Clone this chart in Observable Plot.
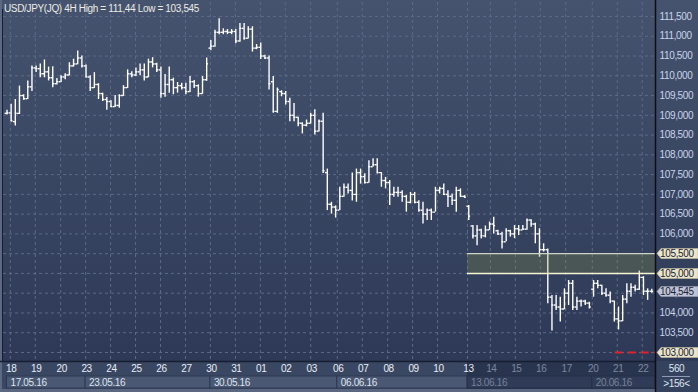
<!DOCTYPE html>
<html><head><meta charset="utf-8">
<script src="https://cdn.jsdelivr.net/npm/d3@7"></script>
<script src="https://cdn.jsdelivr.net/npm/@observablehq/plot@0.6"></script>
<style>
html,body{margin:0;padding:0;background:#36435f;}
#chart{width:698px;height:392px;background:linear-gradient(to bottom,#45536e 0%,#2d3956 92%);}
svg{display:block;}
svg text{letter-spacing:-0.35px;}
</style></head><body><div id="chart"></div>
<script>
const title = "USD/JPY(JQ) 4H High = 111,44 Low = 103,545";
const open = [109.05,109.06,108.84,109.05,109.5,109.42,109.72,110.2,110.18,110.05,110.1,109.95,109.8,109.85,109.97,110.02,110.25,110.3,110.45,110.25,
109.97,109.7,109.78,109.55,109.4,109.35,109.22,109.25,109.5,109.7,110.05,110.02,110.1,110.15,109.97,110.35,110.3,110.15,109.55,109.78,
109.9,109.7,109.75,109.7,109.6,109.85,109.75,109.55,109.9,110.7,110.75,111.1,111.1,111.12,111.1,111.12,110.88,111.2,110.95,111.18,
110.7,110.72,110.5,110.45,109.85,109.1,109.6,109.55,109.35,109.0,108.95,108.8,108.75,108.8,109.0,108.6,108.85,107.55,106.75,106.68,
106.6,106.95,107.18,107.1,107.0,107.55,107.45,107.3,107.7,107.75,107.55,107.35,107.3,107.0,107.05,107.05,106.95,106.8,107.0,106.8,
106.6,106.5,106.6,106.55,107.1,107.15,107.0,106.95,106.85,107.1,106.95,106.7,106.2,105.95,106.1,105.95,106.1,106.25,106.08,106.0,
105.8,106.08,106.0,106.13,106.1,106.12,106.35,106.25,106.0,105.6,105.6,104.4,104.2,104.15,104.1,104.5,104.75,104.15,104.3,104.3,
104.25,104.6,104.75,104.7,104.5,104.45,104.3,103.85,103.8,104.35,104.55,104.65,104.6,104.9,104.55,104.55];
const high = [109.13,109.28,109.4,109.74,109.52,109.87,110.25,110.25,110.3,110.4,110.22,110.23,109.93,110.0,110.05,110.33,110.42,110.63,110.5,110.27,
110.0,110.08,109.8,109.56,109.45,109.37,109.5,109.52,109.75,110.15,110.1,110.2,110.3,110.3,110.42,110.46,110.32,110.22,110.03,110.22,
109.94,109.83,109.81,109.81,109.98,109.88,109.77,109.98,110.45,110.89,111.15,111.44,111.19,111.17,111.17,111.17,111.32,111.32,111.24,111.24,
110.79,110.83,110.52,110.5,109.98,109.69,109.62,109.6,109.43,109.3,108.95,108.81,108.88,109.05,109.14,108.88,109.05,107.64,106.8,106.71,
107.18,107.26,107.26,107.54,107.64,107.64,107.52,107.85,107.9,107.9,107.55,107.43,107.35,107.18,107.18,107.09,106.97,107.05,107.05,106.84,
106.8,106.63,106.63,107.18,107.18,107.26,107.09,107.01,107.18,107.14,106.97,106.72,106.21,106.21,106.12,106.2,106.3,106.42,106.09,106.04,
106.13,106.09,106.21,106.21,106.21,106.38,106.36,106.27,106.13,105.75,105.62,104.44,104.44,104.4,104.61,104.82,104.82,104.4,104.33,104.32,
104.27,104.82,104.82,104.7,104.61,104.53,104.3,104.15,104.44,104.74,104.74,104.7,105.06,104.92,104.61,104.6];
const low = [109.01,108.84,108.73,109.02,109.38,109.4,109.6,110.08,109.95,109.95,109.87,109.7,109.77,109.83,109.9,110.0,110.22,110.28,110.2,109.95,
109.6,109.68,109.4,109.35,109.13,109.2,109.2,109.18,109.48,109.68,109.95,109.98,110.0,109.87,109.95,110.2,110.08,109.43,109.46,109.56,
109.52,109.56,109.64,109.52,109.58,109.68,109.46,109.53,109.86,110.64,110.72,111.04,111.04,111.04,111.04,110.81,110.85,110.9,110.93,110.6,
110.66,110.41,110.41,109.64,109.05,109.05,109.47,109.26,108.84,108.84,108.71,108.53,108.71,108.78,108.5,108.58,107.53,106.59,106.5,106.4,
106.59,106.93,107.01,106.83,106.8,107.26,107.26,107.28,107.69,107.52,107.18,107.14,106.72,106.93,106.93,106.8,106.55,106.76,106.76,106.55,
106.25,106.34,106.34,106.55,107.01,106.97,106.67,106.72,106.55,106.93,106.9,106.34,105.87,105.7,105.87,105.9,106.09,106.0,105.96,105.62,
105.8,105.92,105.88,105.96,106.09,106.09,106.17,105.75,105.41,105.54,104.23,103.545,104.06,103.77,104.08,104.19,104.06,104.06,104.15,104.19,
104.1,104.4,104.61,104.44,104.4,104.23,103.77,103.57,103.78,104.23,104.4,104.53,104.57,104.44,104.32,104.5];
const close = [109.06,108.86,109.05,109.5,109.42,109.72,110.2,110.18,110.05,110.1,109.95,109.8,109.85,109.97,110.02,110.25,110.3,110.45,110.25,109.97,
109.7,109.78,109.55,109.4,109.35,109.22,109.25,109.5,109.7,110.05,110.02,110.1,110.15,109.97,110.35,110.3,110.15,109.55,109.78,109.9,
109.7,109.75,109.7,109.6,109.85,109.75,109.55,109.9,110.3,110.75,111.1,111.1,111.12,111.1,111.12,110.88,111.2,110.95,111.18,110.7,
110.72,110.5,110.45,109.8,109.1,109.65,109.55,109.35,109.0,108.95,108.8,108.75,108.8,109.0,108.6,108.85,107.6,106.75,106.68,106.6,
106.95,107.18,107.1,107.0,107.55,107.45,107.3,107.7,107.75,107.55,107.35,107.3,107.0,107.05,107.05,106.95,106.8,107.0,106.8,106.6,
106.5,106.6,106.55,107.1,107.15,107.0,106.95,106.85,107.1,106.95,106.93,106.45,105.95,106.1,105.95,106.1,106.25,106.21,106.0,105.8,
106.08,106.0,106.13,106.1,106.12,106.35,106.25,106.0,105.6,105.6,104.4,104.2,104.15,104.1,104.5,104.75,104.15,104.3,104.3,104.25,
104.15,104.75,104.7,104.5,104.45,104.3,103.85,103.8,104.35,104.55,104.65,104.6,104.9,104.55,104.55,104.545];

const dayTicks = [0.8,6.8,12.9,18.9,24.9,30.9,36.9,42.9,48.9,54.9,60.9,66.9,73.0,79.4,85.4,91.5,97.5,103.5,110.7,116.2,122.2,128.2,134.3,140.7,146.7,152.7];
const dayLabels = ["18","19","20","23","24","25","26","27","30","31","01","02","03","06","07","08","09","10","13","14","15","16","17","20","21","22"];
const weekStarts = [0,18.9,48.9,79.4,110.7,140.7];
const weekLabels = ["17.05.16","23.05.16","30.05.16","06.06.16","13.06.16","20.06.16"];
const priceTicks = [103,103.5,104,104.5,105,105.5,106,106.5,107,107.5,108,108.5,109,109.5,110,110.5,111,111.5];
const zoneLow = 105.0, zoneHigh = 105.5;
const zoneStart = 110.7;        // from the 13.06 session
const supportLevel = 103.0;
const supportStart = 146.2;     // from 21.06
const lastPrice = 104.545;
const tagLevels = [105.5, 105.0, 104.545, 103.0];
const futureStart = 110.7;
const counterTop = "560", counterBottom = ">156<";

const bars = close.map((c, i) => ({i, o: open[i], h: high[i], l: low[i], c}));
const axisTicks = priceTicks.filter(t => !tagLevels.includes(t));
const xMin = -0.84, xMax = 155.89;
const yMin = 102.772, yMax = 111.854;
const fmt = v => d3.format(".3f")(v).replace(".", ",");
const FONT = "'Liberation Sans', Arial, sans-serif";

function bottomAxis(index, scales, values, dims) {
  const x = scales.x;
  const g = d3.create("svg:g").attr("font-family", FONT).attr("font-size", 10).attr("text-anchor", "start");
  const right = dims.width - dims.marginRight;
  const top = dims.height - dims.marginBottom;
  g.append("rect").attr("x", 0).attr("y", top).attr("width", right).attr("height", dims.height - top).attr("fill", "#3a4763");
  weekStarts.forEach((s, k) => {
    const a = x(s), b = k + 1 < weekStarts.length ? x(weekStarts[k + 1]) : right;
    g.append("rect").attr("x", a).attr("y", top + 15).attr("width", b - a).attr("height", 12)
      .attr("fill", "#4b5874").attr("stroke", "#2f3a52").attr("stroke-width", 1);
  });
  g.append("rect").attr("x", 0).attr("y", dims.height - 3).attr("width", right).attr("height", 3).attr("fill", "#5b6780");
  g.append("rect").attr("x", x(futureStart)).attr("y", top + 1).attr("width", right - x(futureStart)).attr("height", dims.height - top - 4)
    .attr("fill", "#1c2640").attr("fill-opacity", 0.55);
  dayTicks.forEach((t, k) => {
    g.append("text").attr("x", x(t) + 1.5).attr("y", top + 11).attr("text-anchor", "middle")
      .attr("fill", t > futureStart + 0.5 ? "#7c879e" : "#e8edf5").text(dayLabels[k]);
  });
  weekStarts.forEach((s, k) => {
    g.append("text").attr("x", x(s) + 4).attr("y", top + 24.5).attr("text-anchor", "start")
      .attr("fill", s >= futureStart ? "#76819a" : "#dde3ee").text(weekLabels[k]);
  });
  const cx = right + (dims.width - right) / 2;
  g.append("rect").attr("x", right).attr("y", top).attr("width", dims.width - right).attr("height", dims.height - top).attr("fill", "#35425e");
  g.append("text").attr("x", cx).attr("y", top + 11).attr("text-anchor", "middle").attr("fill", "#dfe5f0").text(counterTop);
  g.append("line").attr("x1", right + 7).attr("x2", dims.width - 8).attr("y1", top + 15.5).attr("y2", top + 15.5).attr("stroke", "#8e9ab2");
  g.append("text").attr("x", cx).attr("y", top + 26).attr("text-anchor", "middle").attr("fill", "#dfe5f0").text(counterBottom);
  return g.node();
}

function priceTags(index, scales, values, dims) {
  const y = scales.y;
  const x0 = dims.width - dims.marginRight;
  const g = d3.create("svg:g").attr("font-family", FONT).attr("font-size", 10).attr("text-anchor", "start");
  tagLevels.forEach(v => {
    const cy = Math.round(y(v)) + 0.5;
    const isLast = v === lastPrice;
    g.append("path").attr("d", `M${x0 + 2},${cy} L${x0 + 6},${cy - 5} H${dims.width} V${cy + 5} H${x0 + 6} Z`)
      .attr("fill", isLast ? "#c0c3d6" : "#ebe6c9").attr("stroke", isLast ? "#9a9eb4" : "#bdb89a").attr("stroke-width", 0.6);
    g.append("text").attr("x", x0 + 5).attr("y", cy).attr("dy", "0.35em").attr("text-anchor", "start")
      .attr("fill", "#1c2438").text(fmt(v));
  });
  return g.node();
}

function frameLines(index, scales, values, dims) {
  const g = d3.create("svg:g");
  const right = dims.width - dims.marginRight;
  const top = dims.height - dims.marginBottom;
  g.append("rect").attr("x", 0).attr("y", 0).attr("width", 2).attr("height", dims.height).attr("fill", "#5d6983");
  g.append("line").attr("x1", 2.5).attr("x2", 2.5).attr("y1", 9).attr("y2", top).attr("stroke", "#161d30").attr("stroke-width", 1);
  g.append("line").attr("x1", 0).attr("x2", right).attr("y1", top + 0.5).attr("y2", top + 0.5).attr("stroke", "#171e31").attr("stroke-width", 1.5);
  g.append("line").attr("x1", right + 0.5).attr("x2", right + 0.5).attr("y1", 0).attr("y2", dims.height).attr("stroke", "#0c0f18").attr("stroke-width", 1.5);
  g.append("text").attr("x", 4).attr("y", 11.5).attr("font-family", FONT).attr("font-size", 10).attr("text-anchor", "start")
    .attr("fill", "#ecebe4").text(title);
  return g.node();
}

const tickLen = 0.45;
const plot = Plot.plot({
  width: 698, height: 392,
  marginLeft: 3, marginRight: 43, marginTop: 2, marginBottom: 31,
  x: {domain: [xMin, xMax], axis: null},
  y: {domain: [yMin, yMax], axis: null},
  style: {background: "transparent", fontFamily: FONT, fontSize: "10px"},
  marks: [
    Plot.ruleY(priceTicks, {stroke: "#5c6a88", strokeDasharray: "3,3", strokeWidth: 1}),
    Plot.ruleX(dayTicks, {stroke: "#5c6a88", strokeDasharray: "3,3", strokeWidth: 1}),
    Plot.ruleX(bars, {x: "i", y1: "l", y2: "h", stroke: "#ffffff", strokeWidth: 1.4}),
    Plot.ruleY(bars, {y: "o", x1: d => d.i - tickLen, x2: "i", stroke: "#ffffff", strokeWidth: 1.4}),
    Plot.ruleY(bars, {y: "c", x1: "i", x2: d => d.i + tickLen, stroke: "#ffffff", strokeWidth: 1.4}),
    Plot.rect([0], {x1: zoneStart, x2: xMax, y1: zoneLow, y2: zoneHigh, fill: "rgb(140,150,60)", fillOpacity: 0.26}),
    Plot.ruleY([zoneHigh], {x1: zoneStart, x2: xMax, stroke: "#cfd2c8", strokeWidth: 1.2}),
    Plot.ruleY([zoneLow], {x1: zoneStart, x2: xMax, stroke: "#f7f4d2", strokeWidth: 1.5}),
    Plot.ruleY([supportLevel], {x1: supportStart, x2: xMax, stroke: "#e3202c", strokeWidth: 2, strokeDasharray: "8,5"}),
    Plot.axisY({ticks: axisTicks, anchor: "right", tickSize: 0, tickPadding: 4, tickFormat: fmt, fill: "#c9d4ea", fontSize: 10}),
    bottomAxis,
    frameLines,
    priceTags
  ]
});
document.getElementById("chart").appendChild(plot);
</script>
</body></html>
